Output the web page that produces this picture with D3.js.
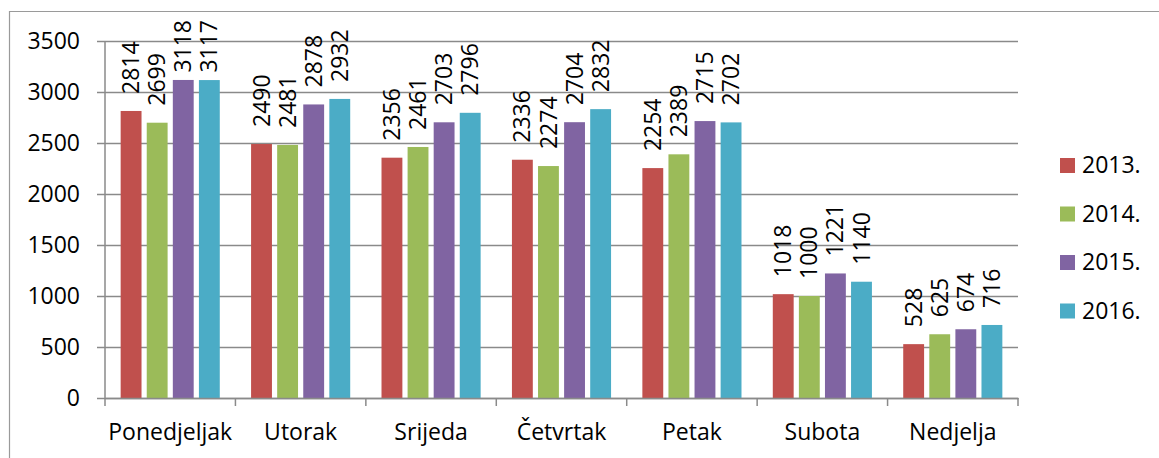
<!DOCTYPE html>
<html>
<head>
<meta charset="utf-8">
<script src="https://cdn.jsdelivr.net/npm/d3@7"></script>
<style>
  body { margin: 0; background: #fff; }
  text { font-family: "Open Sans", sans-serif; fill: #000; }
</style>
</head>
<body>
<svg id="chart"></svg>
<script>
const days = ["Ponedjeljak", "Utorak", "Srijeda", "Četvrtak", "Petak", "Subota", "Nedjelja"];
const years = ["2013.", "2014.", "2015.", "2016."];
const yTicks = [0, 500, 1000, 1500, 2000, 2500, 3000, 3500];
const colors = ["#C0504D", "#9BBB59", "#8064A2", "#4BACC6"];

const v2013 = [2814, 2490, 2356, 2336, 2254, 1018, 528];
const v2014 = [2699, 2481, 2461, 2274, 2389, 1000, 625];
const v2015 = [3118, 2878, 2703, 2704, 2715, 1221, 674];
const v2016 = [3117, 2932, 2796, 2832, 2702, 1140, 716];

class GroupedBars {
    margin = { top: 41, right: 141, bottom: 60, left: 105 }

    constructor(svg, width = 1159, height = 458) {
        this.svg = svg;
        this.width = width;
        this.height = height;
    }

    initialize() {
        this.svg = d3.select(this.svg)
            .attr("width", this.width)
            .attr("height", this.height);

        this.plotW = this.width - this.margin.left - this.margin.right;   // 913
        this.plotH = 398 - this.margin.top;                                 // 357

        // outer chart border (only top/left edges are in the frame)
        this.svg.append("path")
            .attr("d", `M9.5,${this.height}V11.5H${this.width}`)
            .attr("fill", "none")
            .attr("stroke", "#9a9a9a")
            .attr("stroke-width", 1.2);

        this.grid = this.svg.append("g");
        this.container = this.svg.append("g")
            .attr("transform", `translate(${this.margin.left}, ${this.margin.top})`);
        this.xAxis = this.svg.append("g");
        this.labels = this.svg.append("g");
        this.legend = this.svg.append("g");

        this.x0 = d3.scaleBand().domain(days).range([0, this.plotW]);
        this.x1 = d3.scaleBand().domain(years).range([0, this.x0.bandwidth()])
            .paddingInner(0.2).paddingOuter(0.6);
        this.y = d3.scaleLinear().domain([0, 3500]).range([this.plotH, 0]);
        this.color = d3.scaleOrdinal().domain(years).range(colors);
    }

    update() {
        const series = [v2013, v2014, v2015, v2016];
        const rows = [];
        days.forEach((d, i) => {
            years.forEach((yr, j) => rows.push({ day: d, year: yr, value: series[j][i] }));
        });

        // gridlines + y labels
        this.grid
            .attr("transform", `translate(${this.margin.left - 8}, ${this.margin.top})`)
            .call(d3.axisLeft(this.y).tickValues(yTicks).tickFormat(d3.format("d"))
                .tickSize(-(this.plotW + 8)).tickPadding(17))
            .call(g => g.select(".domain").remove())
            .call(g => g.selectAll(".tick line").attr("stroke", "#8a8a8a").attr("stroke-width", 1.5))
            .call(g => g.selectAll(".tick text").attr("font-size", 23).attr("font-family", "Open Sans"));

        // y axis line
        this.svg.append("line")
            .attr("x1", this.margin.left).attr("x2", this.margin.left)
            .attr("y1", this.margin.top).attr("y2", this.margin.top + this.plotH)
            .attr("stroke", "#8a8a8a").attr("stroke-width", 1.5);

        this.bars = this.container.selectAll("rect")
            .data(rows)
            .join("rect")
            .attr("x", d => this.x0(d.day) + this.x1(d.year))
            .attr("y", d => this.y(d.value))
            .attr("width", this.x1.bandwidth())
            .attr("height", d => this.plotH - this.y(d.value))
            .attr("fill", d => this.color(d.year));

        // x axis with ticks at category boundaries
        this.xAxis
            .attr("transform", `translate(${this.margin.left}, ${this.margin.top + this.plotH})`)
            .call(d3.axisBottom(this.x0).tickSize(0).tickSizeOuter(0).tickPadding(42))
            .call(g => g.select(".domain").attr("stroke", "#8a8a8a").attr("stroke-width", 1.5))
            .call(g => g.selectAll(".tick text").attr("font-size", 23).attr("font-family", "Open Sans").attr("dy", 0));

        const bounds = days.map(d => this.x0(d)).concat([this.plotW]);
        this.xAxis.selectAll(".bound")
            .data(bounds)
            .join("line")
            .attr("class", "bound")
            .attr("x1", d => d).attr("x2", d => d)
            .attr("y1", 0).attr("y2", 8)
            .attr("stroke", "#8a8a8a").attr("stroke-width", 1.5);

        // rotated value labels
        const lbl = this.labels.selectAll("text")
            .data(rows)
            .join("text")
            .attr("font-size", 23)
            .attr("dy", "0.35em")
            .text(d => d.value);
        lbl.each(function (d) {
            d.len = this.getComputedTextLength();
        });
        lbl.attr("transform", d => {
            const cx = this.margin.left + this.x0(d.day) + this.x1(d.year) + this.x1.bandwidth() / 2;
            let base = this.margin.top + this.y(d.value) - 17;
            base = Math.max(base, 20 + d.len);   // keep inside chart area
            return `translate(${cx}, ${base}) rotate(-90)`;
        });

        // legend
        const item = this.legend.selectAll("g")
            .data(years)
            .join("g")
            .attr("transform", (d, i) => `translate(1060, ${158 + i * 48.5})`);
        item.append("rect")
            .attr("width", 15).attr("height", 15)
            .attr("fill", d => this.color(d));
        item.append("text")
            .attr("x", 22).attr("y", 15)
            .attr("font-size", 23)
            .text(d => d);
    }
}

const chart = new GroupedBars(document.getElementById("chart"));
chart.initialize();
chart.update();
</script>
</body>
</html>
